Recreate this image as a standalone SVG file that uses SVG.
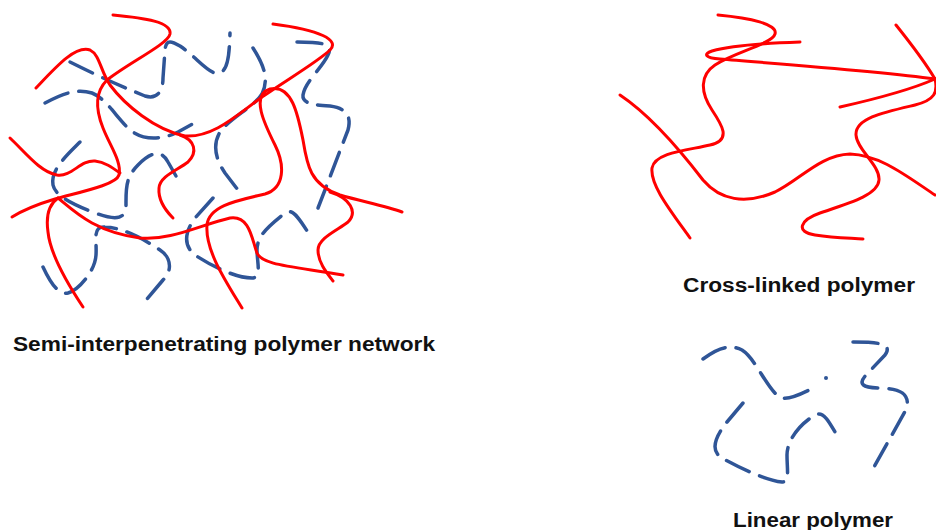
<svg xmlns="http://www.w3.org/2000/svg" width="936" height="530" viewBox="0 0 936 530">
  <style>
    .xl { fill: none; stroke: #ff0000; stroke-width: 3; stroke-linecap: round; stroke-linejoin: round; }
    .ln { fill: none; stroke: #2f5597; stroke-width: 3.5; stroke-linecap: round; stroke-linejoin: round; stroke-dasharray: 25 11; }
    .dot { fill: #2f5597; }
    .label { font-family: "Liberation Sans", Arial, sans-serif; font-weight: bold; font-size: 20px; fill: #111; }
  </style>
  <rect width="936" height="530" fill="#ffffff"/>

  <!-- Semi-interpenetrating network: linear chains (dashed) threaded through a cross-linked net (solid) -->
  <g id="semi-ipn">
    <g id="semi-ipn-linear">
      <path class="ln" d="M70,62 C100,77 125,88 145,96 C158,100 163,90 163,78 L165,50 C166,40 170,40 180,46 C195,56 205,70 215,73 C228,74 229,60 230,33"/>
      <path class="ln" d="M253,48 C262,62 270,78 262,94 C255,106 230,118 220,132 C212,145 216,160 225,173 L238,190"/>
      <path class="ln" d="M45,103 C60,95 75,88 92,93 C105,98 115,115 128,128 C140,140 160,141 178,132 L200,120"/>
      <path class="ln" d="M80,142 C68,154 50,170 53,185 C55,195 70,203 90,211 C110,219 126,223 126,205 C126,190 125,178 138,165 C148,155 160,147 168,162 L176,176"/>
      <path class="ln" d="M43,267 C50,282 58,295 68,293 C78,290 95,272 96,255 C97,240 92,226 105,227 C125,228 145,240 160,250 C172,258 172,272 163,280 L142,305"/>
      <path class="ln" d="M213,198 L195,218 C186,230 182,245 195,255 C210,265 235,278 252,278 C262,278 257,262 257,250 C257,235 270,225 285,213 C293,207 300,220 311,237"/>
      <path class="ln" d="M297,42 C315,42 335,42 328,55 C322,68 305,82 303,95 C302,104 315,105 330,106 C345,108 352,115 348,130 L318,208"/>
    </g>
    <g id="semi-ipn-crosslinked">
      <path class="xl" d="M113,15 C145,18 172,22 170,34 C168,44 130,62 107,80 C95,92 95,108 103,128 C110,146 122,162 119,175 C116,185 80,192 55,199 C35,205 20,212 12,217"/>
      <path class="xl" d="M36,88 C55,68 75,45 90,50 C100,55 100,70 110,85 C125,105 155,130 185,136 C215,138 240,112 265,95 C290,78 320,60 330,50 C340,40 320,30 273,24"/>
      <path class="xl" d="M180,135 C195,140 198,152 188,162 C178,170 160,176 159,188 C158,200 165,210 173,218"/>
      <path class="xl" d="M10,138 C25,152 40,172 57,175 C72,177 80,160 95,161 C105,162 113,168 120,173"/>
      <path class="xl" d="M58,198 C48,205 46,218 48,232 C50,252 65,280 83,307"/>
      <path class="xl" d="M58,198 C75,212 95,232 140,238 C170,241 200,225 230,218 C250,215 252,240 257,253 C262,265 290,266 343,275"/>
      <path class="xl" d="M242,308 C225,280 205,250 207,225 C209,205 240,200 265,194 C285,188 285,165 275,145 C265,125 250,95 270,89 C292,84 298,115 303,140 C307,165 310,185 340,195 C360,201 385,206 402,212"/>
      <path class="xl" d="M330,192 C350,198 358,212 348,222 C338,230 318,238 318,250 C318,262 326,272 333,281"/>
    </g>
  </g>

  <!-- Cross-linked polymer -->
  <g id="cross-linked">
    <path class="xl" d="M718,15 C750,18 778,24 775,34 C772,44 735,52 715,65 C700,75 700,92 712,110 C722,125 732,140 710,145 C690,150 655,152 652,168 C650,185 670,210 690,238"/>
    <path class="xl" d="M800,42 C770,43 730,46 712,51 C703,54 705,58 720,59 C780,64 880,71 935,79"/>
    <path class="xl" d="M896,25 C912,45 925,62 935,79"/>
    <path class="xl" d="M935,79 C910,90 880,98 840,107"/>
    <path class="xl" d="M935,79 C938,92 935,100 915,105 C885,112 855,118 856,135 C857,150 880,165 879,180 C878,195 850,203 820,213 C800,220 795,232 815,235 C835,238 850,238 863,239"/>
    <path class="xl" d="M620,95 C650,115 680,150 703,180 C720,200 745,205 775,192 C800,180 820,155 850,154 C880,155 905,175 935,195"/>
  </g>

  <!-- Linear polymer -->
  <g id="linear">
    <path class="ln" d="M703,359 C715,350 728,343 742,350 C755,358 765,385 778,396 C785,402 800,395 817,386"/>
    <circle class="dot" cx="826" cy="378" r="2"/>
    <path class="ln" d="M853,342 C870,342 895,342 885,355 L866,375 C858,384 862,388 880,388 C895,389 910,390 907,408 L874,467"/>
    <path class="ln" d="M743,403 L727,422 C718,433 708,450 722,458 C740,468 765,480 782,482 C790,482 787,470 787,455 C787,440 800,424 815,415 C825,410 830,425 840,440"/>
  </g>

  <g id="labels">
    <text class="label" x="13" y="351" textLength="422" lengthAdjust="spacingAndGlyphs">Semi-interpenetrating polymer network</text>
    <text class="label" x="683" y="292" textLength="232" lengthAdjust="spacingAndGlyphs">Cross-linked polymer</text>
    <text class="label" x="733" y="527" textLength="160" lengthAdjust="spacingAndGlyphs">Linear polymer</text>
  </g>
</svg>
